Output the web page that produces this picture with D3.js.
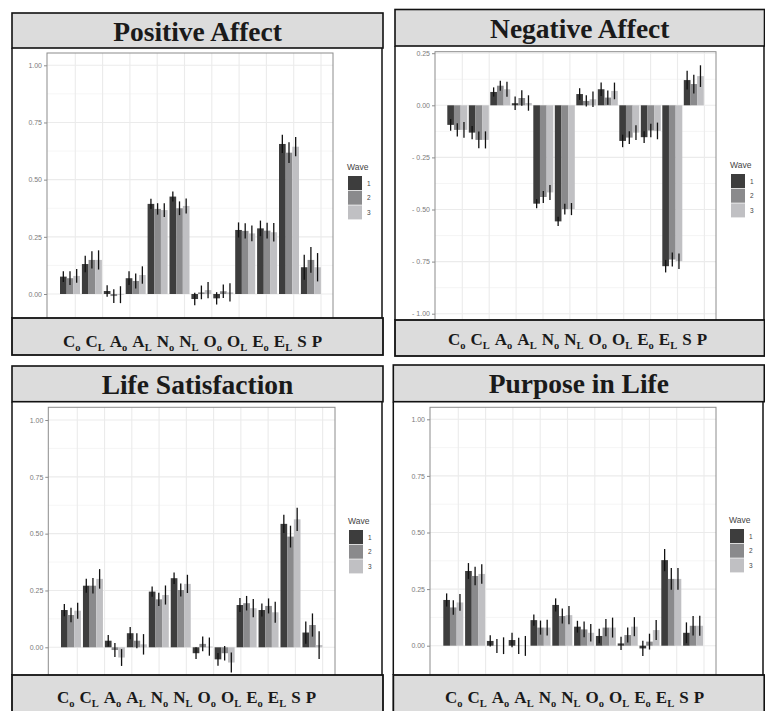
<!DOCTYPE html>
<html>
<head>
<meta charset="utf-8">
<script src="https://cdn.jsdelivr.net/npm/d3@7"></script>
<style>
body{margin:0;background:#fff;}
svg{display:block;}
</style>
</head>
<body>
<div id="chart"></div>
<script>
// x categories (letter + subscript) and waves
var catMain = ["C","C","A","A","N","N","O","O","E","E","S","P"];
var catSub  = ["o","L","o","L","o","L","o","L","o","L","",""];
var waves = ["1","2","3"];
var waveColors = ["#3d3d3d","#8a8a8c","#c0c0c3"];

// Positive Affect : estimates per wave, and error bar half widths
var posMean = [
  [0.076,0.131,0.013,0.069,0.394,0.426,-0.022,-0.019,0.280,0.287,0.656,0.117],
  [0.069,0.149,-0.009,0.057,0.372,0.375,0.007,0.012,0.276,0.277,0.618,0.149],
  [0.079,0.149,-0.003,0.083,0.367,0.385,0.017,0.007,0.265,0.270,0.644,0.117]];
var posErr = [
  [0.024,0.036,0.025,0.030,0.022,0.022,0.027,0.027,0.033,0.034,0.040,0.055],
  [0.030,0.038,0.030,0.033,0.025,0.030,0.030,0.030,0.033,0.034,0.045,0.056],
  [0.030,0.042,0.037,0.038,0.030,0.033,0.036,0.040,0.034,0.040,0.042,0.062]];

// Negative Affect
var negMean = [
  [-0.094,-0.131,0.064,0.010,-0.472,-0.557,0.054,0.077,-0.171,-0.153,-0.772,0.121],
  [-0.118,-0.166,0.094,0.035,-0.440,-0.498,0.021,0.037,-0.155,-0.121,-0.740,0.102],
  [-0.118,-0.166,0.077,0.011,-0.418,-0.498,0.029,0.069,-0.131,-0.123,-0.748,0.140]];
var negErr = [
  [0.028,0.032,0.022,0.032,0.022,0.022,0.028,0.032,0.030,0.028,0.030,0.045],
  [0.032,0.040,0.024,0.037,0.029,0.026,0.027,0.034,0.031,0.032,0.034,0.045],
  [0.038,0.041,0.036,0.037,0.036,0.029,0.037,0.040,0.035,0.040,0.037,0.052]];

// Life Satisfaction
var lifeMean = [
  [0.164,0.271,0.029,0.062,0.245,0.304,-0.026,-0.053,0.186,0.164,0.543,0.065],
  [0.142,0.271,-0.012,0.029,0.211,0.252,0.015,-0.026,0.194,0.182,0.487,0.098],
  [0.161,0.301,-0.045,0.013,0.230,0.279,0.003,-0.067,0.172,0.154,0.563,0.010]];
var lifeErr = [
  [0.027,0.031,0.025,0.027,0.023,0.025,0.026,0.028,0.031,0.029,0.040,0.049],
  [0.032,0.034,0.031,0.033,0.029,0.029,0.032,0.032,0.032,0.033,0.048,0.051],
  [0.035,0.043,0.037,0.045,0.042,0.040,0.040,0.044,0.040,0.046,0.051,0.061]];

// Purpose in Life
var purpMean = [
  [0.202,0.330,0.021,0.025,0.113,0.180,0.084,0.043,0.010,-0.012,0.378,0.057],
  [0.169,0.308,-0.001,-0.001,0.080,0.131,0.072,0.080,0.047,0.018,0.295,0.088],
  [0.191,0.317,0.000,-0.001,0.080,0.135,0.057,0.080,0.084,0.069,0.295,0.088]];
var purpErr = [
  [0.029,0.035,0.025,0.032,0.025,0.029,0.026,0.032,0.029,0.034,0.049,0.046],
  [0.032,0.041,0.031,0.036,0.031,0.033,0.035,0.038,0.033,0.035,0.048,0.043],
  [0.037,0.043,0.037,0.044,0.035,0.040,0.039,0.044,0.042,0.044,0.048,0.044]];

var posTicks = [0,0.25,0.5,0.75,1];
var negTicks = [0.25,0,-0.25,-0.5,-0.75,-1];

// layout of the 4 panels (pixels)
var panels = [
  {title:"Positive Affect", mean:posMean, err:posErr, ticks:posTicks,
   bx0:12, bx1:383, tTop:13, tBot:48, bTop:318, bBot:355, frameR:382,
   px0:47, px1:333, py0:53, yA:[0,294,1,65.3],
   gridX:75.3, gridStep:27.3, bandX:60, bandStep:21.9,
   legX:348, legY:176, labX:63, labY:347},
  {title:"Negative Affect", mean:negMean, err:negErr, ticks:negTicks,
   bx0:395, bx1:764.5, tTop:9.5, tBot:46, bTop:320, bBot:356, frameR:764,
   px0:435, px1:716, py0:51.7, yA:[0,105.3,-1,313.7],
   gridX:462.3, gridStep:26.9, bandX:447.3, bandStep:21.5,
   legX:731, legY:174, labX:448, labY:345},
  {title:"Life Satisfaction", mean:lifeMean, err:lifeErr, ticks:posTicks,
   bx0:12, bx1:383, tTop:366, tBot:401.7, bTop:675, bBot:716, frameR:382,
   px0:48.3, px1:335, py0:407.3, yA:[0,647.3,1,420],
   gridX:77.3, gridStep:27.26, bandX:61, bandStep:21.95,
   legX:349, legY:530, labX:57, labY:702.7},
  {title:"Purpose in Life", mean:purpMean, err:purpErr, ticks:posTicks,
   bx0:393.3, bx1:764.3, tTop:365, tBot:401.7, bTop:675, bBot:716, frameR:763,
   px0:430, px1:716, py0:407.3, yA:[0,645.7,1,419.3],
   gridX:458.3, gridStep:27.3, bandX:443.3, bandStep:21.8,
   legX:730, legY:529, labX:445, labY:703.3}
];

var svg = d3.select("#chart").append("svg")
  .attr("width",765).attr("height",711);

var tickFmt = function(d){
  var s = d3.format(".2f")(Math.abs(d));
  return d < 0 ? "- " + s : s;
};
var sans = "'Liberation Sans', Arial, sans-serif";
var serif = "'Liberation Serif', 'Times New Roman', serif";

panels.forEach(function(p){
  var g = svg.append("g");

  // y scale from two anchor points, extrapolated to the panel edges
  var y = d3.scaleLinear().domain([p.yA[0],p.yA[2]]).range([p.yA[1],p.yA[3]]);
  var yTop = y.invert(p.py0), yBot = y.invert(p.bTop);

  // x band scale for the 12 groups, 20px wide each
  var pi = 1 - 20/p.bandStep;
  var off = pi/2*p.bandStep;
  var x = d3.scaleBand().domain(d3.range(catMain.length))
    .range([p.bandX - off, p.bandX - off + catMain.length*p.bandStep])
    .paddingInner(pi).paddingOuter(pi/2);
  var xw = d3.scaleBand().domain(d3.range(waves.length)).range([0, x.bandwidth()]);

  // panel background + grid
  g.append("rect").attr("x",p.px0).attr("y",p.py0)
    .attr("width",p.px1-p.px0).attr("height",p.bTop-p.py0).attr("fill","#fff");

  var minor = d3.range(Math.ceil(yBot*8), Math.floor(yTop*8)+1)
    .map(function(k){return k/8;})
    .filter(function(v){return p.ticks.indexOf(v) < 0;});
  g.selectAll(".ymin").data(minor).enter().append("line")
    .attr("x1",p.px0).attr("x2",p.px1)
    .attr("y1",function(d){return y(d);}).attr("y2",function(d){return y(d);})
    .attr("stroke","#f2f2f2").attr("stroke-width",0.8);
  g.selectAll(".ymaj").data(p.ticks).enter().append("line")
    .attr("x1",p.px0).attr("x2",p.px1)
    .attr("y1",function(d){return y(d);}).attr("y2",function(d){return y(d);})
    .attr("stroke","#ebebeb").attr("stroke-width",1.1);

  var gx = d3.scaleLinear().domain([0,9]).range([p.gridX, p.gridX + 9*p.gridStep]);
  g.selectAll(".xgrid").data(d3.range(10)).enter().append("line")
    .attr("x1",function(d){return gx(d);}).attr("x2",function(d){return gx(d);})
    .attr("y1",p.py0).attr("y2",p.bTop)
    .attr("stroke","#ebebeb").attr("stroke-width",1.1);

  // bars
  var rows = [];
  p.mean.forEach(function(arr,w){
    arr.forEach(function(v,i){ rows.push({i:i,w:w,v:v,e:p.err[w][i]}); });
  });

  g.selectAll(".bar").data(rows).enter().append("rect")
    .attr("x",function(d){return x(d.i)+xw(d.w);})
    .attr("y",function(d){return y(Math.max(d.v,0));})
    .attr("width",xw.bandwidth())
    .attr("height",function(d){return Math.abs(y(d.v)-y(0));})
    .attr("fill",function(d){return waveColors[d.w];});

  // error bars
  var cx = function(d){return x(d.i)+xw(d.w)+xw.bandwidth()/2;};
  g.selectAll(".err").data(rows).enter().append("line")
    .attr("x1",cx).attr("x2",cx)
    .attr("y1",function(d){return y(d.v-d.e);})
    .attr("y2",function(d){return y(d.v+d.e);})
    .attr("stroke","#111").attr("stroke-width",1.3);

  // panel border
  g.append("rect").attr("x",p.px0).attr("y",p.py0)
    .attr("width",p.px1-p.px0).attr("height",p.bTop-p.py0+5)
    .attr("fill","none").attr("stroke","#8c8c8c").attr("stroke-width",1);

  // y axis
  var ax = g.append("g").attr("transform","translate("+p.px0+",0)")
    .call(d3.axisLeft(y).tickValues(p.ticks).tickFormat(tickFmt).tickSize(3).tickPadding(2));
  ax.select(".domain").remove();
  ax.selectAll("line").attr("stroke","#8c8c8c");
  ax.selectAll("text").attr("fill","#7a7a7a")
    .style("font-family",sans).style("font-size","7px");

  // legend
  g.append("text").attr("x",p.legX-1).attr("y",p.legY-6).text("Wave")
    .attr("fill","#444").style("font-family",sans).style("font-size","8.5px");
  g.selectAll(".key").data(waves).enter().append("rect")
    .attr("x",p.legX).attr("y",function(d,i){return p.legY+i*14.7;})
    .attr("width",14).attr("height",14)
    .attr("fill",function(d,i){return waveColors[i];});
  g.selectAll(".keyt").data(waves).enter().append("text")
    .attr("x",p.legX+19).attr("y",function(d,i){return p.legY+i*14.7+9.5;})
    .text(function(d){return d;}).attr("fill","#444")
    .style("font-family",sans).style("font-size","6.5px");

  // outer frame sides
  g.append("line").attr("x1",p.bx0).attr("x2",p.bx0).attr("y1",p.tBot).attr("y2",p.bTop)
    .attr("stroke","#111").attr("stroke-width",1.5);
  g.append("line").attr("x1",p.frameR).attr("x2",p.frameR).attr("y1",p.tBot).attr("y2",p.bTop)
    .attr("stroke","#111").attr("stroke-width",1.5);

  // title strip
  g.append("rect").attr("x",p.bx0).attr("y",p.tTop)
    .attr("width",p.bx1-p.bx0).attr("height",p.tBot-p.tTop)
    .attr("fill","#dcdcdc").attr("stroke","#111").attr("stroke-width",1.6);
  g.append("text").attr("x",(p.bx0+p.bx1)/2).attr("y",(p.tTop+p.tBot)/2+10)
    .attr("text-anchor","middle").text(p.title).attr("fill","#1a1a1a")
    .style("font-family",serif).style("font-weight","bold").style("font-size","27.5px");

  // bottom strip with the category labels
  g.append("rect").attr("x",p.bx0).attr("y",p.bTop)
    .attr("width",p.bx1-p.bx0).attr("height",p.bBot-p.bTop)
    .attr("fill","#dcdcdc").attr("stroke","#111").attr("stroke-width",1.8);
  var lab = g.append("text").attr("x",p.labX).attr("y",p.labY).attr("fill","#1a1a1a")
    .style("font-family",serif).style("font-weight","bold").style("font-size","17px");
  var lowered = 0;
  catMain.forEach(function(c,i){
    lab.append("tspan").attr("dx", i === 0 ? 0 : 5).attr("dy", -lowered).text(c);
    lowered = 0;
    if (catSub[i]) {
      lab.append("tspan").attr("dy",4).style("font-size","10.5px").text(catSub[i]);
      lowered = 4;
    }
  });
});
</script>
</body>
</html>
